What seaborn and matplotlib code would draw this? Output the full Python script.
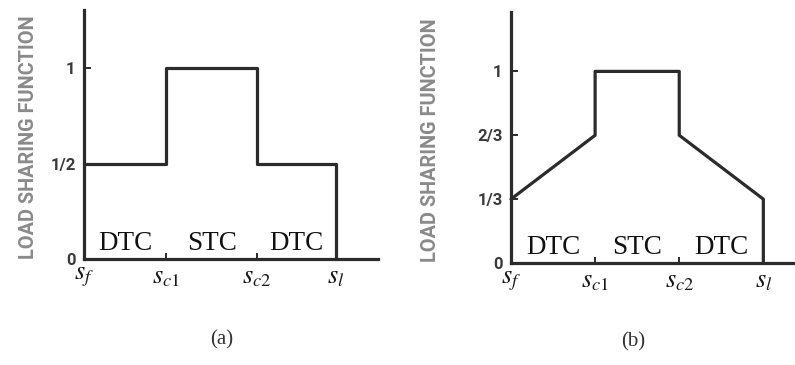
import matplotlib
matplotlib.use("Agg")
import matplotlib.pyplot as plt
import seaborn as sns
import pandas as pd

sns.set_theme(style="white")
plt.rcParams["font.family"] = ["DejaVu Sans"]
plt.rcParams["mathtext.fontset"] = "stix"

# Break points along the slip axis
x_tick_labels = [r"$s_f$", r"$s_{c1}$", r"$s_{c2}$", r"$s_l$"]
x_breaks_a = [0.0, 0.98, 2.06, 3.0]
x_breaks_b = [0.0, 1.0, 2.0, 3.0]

# Vertices of each load sharing curve
curve_a_x = [0.0, 0.98, 0.98, 2.06, 2.06, 3.0, 3.0]
curve_a_y = [0.5, 0.5, 1.0, 1.0, 0.5, 0.5, 0.0]
curve_b_x = [0.0, 1.0, 1.0, 2.0, 2.0, 3.0, 3.0]
curve_b_y = [1 / 3, 2 / 3, 1.0, 1.0, 2 / 3, 1 / 3, 0.0]

# Y ticks
y_ticks_a = [0, 0.5, 1]
y_tick_labels_a = ["0", "1/2", "1"]
y_ticks_b = [0, 1 / 3, 2 / 3, 1]
y_tick_labels_b = ["0", "1/3", "2/3", "1"]

region_labels = ["DTC", "STC", "DTC"]
captions = ["(a)", "(b)"]

INK = "#2b2b2b"
W, H = 795, 365

fig = plt.figure(figsize=(W / 100, H / 100), dpi=100)
fig.patch.set_facecolor("white")


def px_axes(left, bottom_y, right, top_y):
    return fig.add_axes([left / W, (H - bottom_y) / H,
                         (right - left) / W, (bottom_y - top_y) / H])


ax_a = px_axes(84, 259, 378, 10)
ax_b = px_axes(511, 263, 797, 12)

panels = [
    (ax_a, curve_a_x, curve_a_y, x_breaks_a, y_ticks_a, y_tick_labels_a, 3.5, 1.304, -0.155),
    (ax_b, curve_b_x, curve_b_y, x_breaks_b, y_ticks_b, y_tick_labels_b, 3.4, 1.31, -0.25),
]

for ax, cx, cy, brk, yt, ytl, xmax, ymax, lab_x in panels:
    df = pd.DataFrame({"x": cx, "y": cy})
    sns.lineplot(data=df, x="x", y="y", ax=ax, estimator=None, sort=False,
                 color=INK, linewidth=2.3, clip_on=False)
    ax.set_xlim(0, xmax)
    ax.set_ylim(0, ymax)
    ax.set_facecolor("white")
    for side in ["top", "right"]:
        ax.spines[side].set_visible(False)
    for side in ["left", "bottom"]:
        ax.spines[side].set_color(INK)
        ax.spines[side].set_linewidth(2.3)
    ax.set_xticks(brk)
    ax.set_xticklabels(x_tick_labels, fontsize=19, color="#1a1a1a")
    ax.set_yticks(yt)
    ax.set_yticklabels(ytl, fontsize=12, fontweight="bold",
                       family="Roboto", color="#3a3a3a")
    ax.tick_params(axis="x", bottom=True, direction="in", length=4, width=1.4,
                   color=INK, pad=3)
    ax.tick_params(axis="y", left=True, direction="in", length=5, width=1.4,
                   color=INK, pad=6)
    ax.set_xlabel("")
    ax.set_ylabel("LOAD SHARING FUNCTION", fontsize=14.3, fontweight="bold",
                  family="Roboto", color="#8a8a8a")
    ax.yaxis.set_label_coords(lab_x, 0.49)
    for i, txt in enumerate(region_labels):
        xm = (brk[i] + brk[i + 1]) / 2
        ax.text(xm, 0.045, txt, ha="center", va="baseline", fontsize=19.5,
                family="Liberation Serif", color="#111111")

fig.text(222 / W, 1 - 340 / H, captions[0], ha="center", va="center",
         fontsize=15, family="Liberation Serif", color="#333333")
fig.text(633 / W, 1 - 342 / H, captions[1], ha="center", va="center",
         fontsize=15, family="Liberation Serif", color="#333333")

fig.savefig("out.png", dpi=100, facecolor="white")
